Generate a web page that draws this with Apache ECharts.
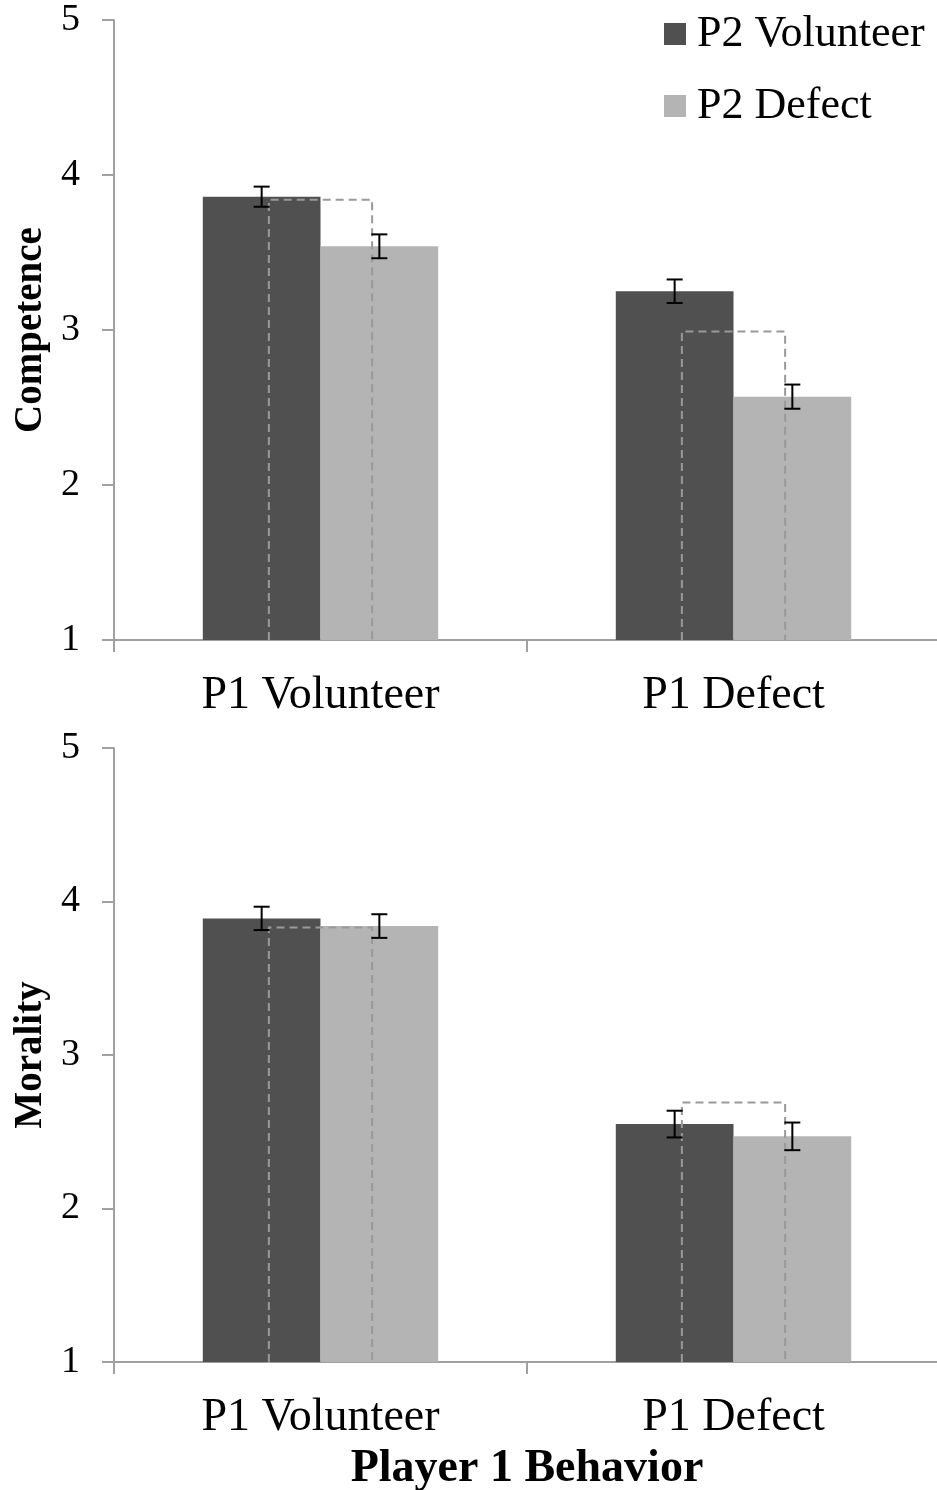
<!DOCTYPE html>
<html>
<head>
<meta charset="utf-8">
<script src="https://cdn.jsdelivr.net/npm/echarts@6/dist/echarts.min.js"></script>
<style>
html,body{margin:0;padding:0;background:#fff;}
#chart{width:937px;height:1490px;}
</style>
</head>
<body>
<div id="chart"></div>
<script>
// ---- data ----
const categories = ['P1 Volunteer', 'P1 Defect'];
const seriesNames = ['P2 Volunteer', 'P2 Defect'];
const yTickLabels = ['1', '2', '3', '4', '5'];

const competenceVolunteer = [3.86, 3.25];
const competenceDefect = [3.54, 2.57];
const competenceVolunteerErr = [0.065, 0.076];
const competenceDefectErr = [0.077, 0.078];
const competenceDashed = [3.84, 2.99];

const moralityVolunteer = [3.89, 2.55];
const moralityDefect = [3.84, 2.47];
const moralityVolunteerErr = [0.076, 0.087];
const moralityDefectErr = [0.077, 0.090];
const moralityDashed = [3.83, 2.69];

// ---- styling ----
const FONT = 'Liberation Serif';
const DARK = '#505050';
const LIGHT = '#b4b4b4';
const AXIS = '#a0a0a0';
const GAP = 0.43;          // barCategoryGap fraction
const BRACKET = 0.125;     // bracket half-width, fraction of band

const chart = echarts.init(document.getElementById('chart'));

function errData(vals, errs) {
  return vals.map((v, i) => [i, v, errs[i]]);
}
function errSeries(idx, data, side) {
  return {
    type: 'custom', xAxisIndex: idx, yAxisIndex: idx, z: 5,
    data: data,
    renderItem: function (params, api) {
      const band = api.size([1, 0])[0];
      const off = side * band * (1 - GAP) / 4;
      const i = api.value(0), v = api.value(1), e = api.value(2);
      const top = api.coord([i, v + e]);
      const bot = api.coord([i, v - e]);
      const x = top[0] + off;
      const cap = 8;
      const st = { stroke: '#000', lineWidth: 2 };
      return { type: 'group', children: [
        { type: 'line', shape: { x1: x, y1: top[1], x2: x, y2: bot[1] }, style: st },
        { type: 'line', shape: { x1: x - cap, y1: top[1], x2: x + cap, y2: top[1] }, style: st },
        { type: 'line', shape: { x1: x - cap, y1: bot[1], x2: x + cap, y2: bot[1] }, style: st }
      ]};
    }
  };
}
function bracketSeries(idx, vals) {
  return {
    type: 'custom', xAxisIndex: idx, yAxisIndex: idx, z: 4,
    data: vals.map((v, i) => [i, v]),
    renderItem: function (params, api) {
      const band = api.size([1, 0])[0];
      const i = api.value(0), v = api.value(1);
      const p = api.coord([i, v]);
      const b = api.coord([i, 1]);
      const dx = band * BRACKET;
      return {
        type: 'polyline',
        shape: { points: [[p[0] - dx, b[1]], [p[0] - dx, p[1]], [p[0] + dx, p[1]], [p[0] + dx, b[1]]] },
        style: { stroke: '#999999', lineWidth: 2, lineDash: [8, 5], fill: null }
      };
    }
  };
}

function xAxisCfg(idx, name) {
  const cfg = {
    type: 'category', gridIndex: idx, data: categories,
    axisLine: { lineStyle: { color: AXIS, width: 2 } },
    axisTick: { show: true, alignWithLabel: false, length: 12, lineStyle: { color: AXIS, width: 2 } },
    axisLabel: { color: '#000', fontFamily: FONT, fontSize: 46, margin: 33 }
  };
  if (name) {
    cfg.name = name;
    cfg.nameLocation = 'middle';
    cfg.nameGap = 84;
    cfg.nameMoveOverlap = false;
    cfg.nameTextStyle = { color: '#000', fontFamily: FONT, fontSize: 46, fontWeight: 'bold' };
  }
  return cfg;
}
function yAxisCfg(idx, name) {
  return {
    type: 'value', gridIndex: idx, min: 1, max: 5, interval: 1,
    name: name, nameLocation: 'middle', nameGap: 64, nameRotate: 90,
    nameMoveOverlap: false,
    nameTextStyle: { color: '#000', fontFamily: FONT, fontSize: 39, fontWeight: 'bold' },
    axisLine: { show: true, lineStyle: { color: AXIS, width: 2 } },
    axisTick: { show: true, length: 12, lineStyle: { color: AXIS, width: 2 } },
    splitLine: { show: false },
    axisLabel: { color: '#000', fontFamily: FONT, fontSize: 38, margin: 34,
      formatter: function (v) { return yTickLabels[Math.round(v) - 1]; } }
  };
}
function barSeries(idx, name, vals, color) {
  return {
    type: 'bar', name: name, xAxisIndex: idx, yAxisIndex: idx,
    data: vals, barGap: '0%', barCategoryGap: (GAP * 100) + '%',
    itemStyle: { color: color }, z: 2
  };
}

chart.setOption({
  animation: false,
  backgroundColor: '#fff',
  legend: {
    orient: 'vertical', left: 664, top: 0, itemGap: 4, padding: 0,
    itemWidth: 22, itemHeight: 22, icon: 'rect',
    textStyle: { color: '#000', fontFamily: FONT, fontSize: 44, lineHeight: 50, padding: [18, 0, 0, 6] },
    data: seriesNames
  },
  grid: [
    { left: 114, top: 20, width: 826, height: 620, containLabel: false, outerBoundsMode: 'none' },
    { left: 114, top: 748, width: 826, height: 614, containLabel: false, outerBoundsMode: 'none' }
  ],
  xAxis: [xAxisCfg(0), xAxisCfg(1, 'Player 1 Behavior')],
  yAxis: [yAxisCfg(0, 'Competence'), yAxisCfg(1, 'Morality')],
  series: [
    barSeries(0, seriesNames[0], competenceVolunteer, DARK),
    barSeries(0, seriesNames[1], competenceDefect, LIGHT),
    barSeries(1, seriesNames[0], moralityVolunteer, DARK),
    barSeries(1, seriesNames[1], moralityDefect, LIGHT),
    bracketSeries(0, competenceDashed),
    bracketSeries(1, moralityDashed),
    errSeries(0, errData(competenceVolunteer, competenceVolunteerErr), -1),
    errSeries(0, errData(competenceDefect, competenceDefectErr), 1),
    errSeries(1, errData(moralityVolunteer, moralityVolunteerErr), -1),
    errSeries(1, errData(moralityDefect, moralityDefectErr), 1)
  ]
});
</script>
</body>
</html>
